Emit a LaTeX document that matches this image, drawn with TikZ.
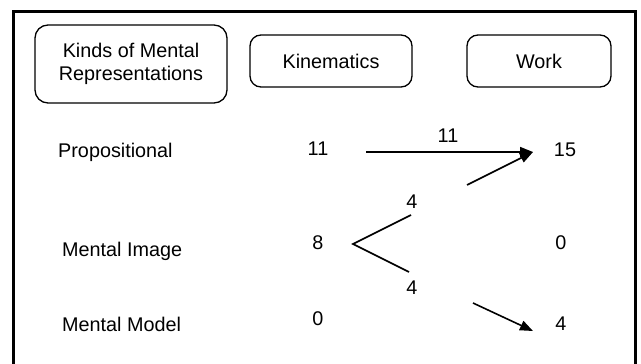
\documentclass[tikz,border=0pt]{standalone}
\usepackage{fontspec}
\setmainfont{Liberation Sans}
\usetikzlibrary{arrows.meta}
\begin{document}
\begin{tikzpicture}[x=1pt,y=-1pt,
  txt/.style={inner sep=0pt,font=\fontsize{19.8}{23}\selectfont},
  hbox/.style={draw,line width=1.3pt,rounded corners=11pt,inner sep=0pt,minimum height=52pt},
  conn/.style={line width=1.6pt},
  arr/.style={conn,-{Triangle[length=13pt,width=10pt]}}]
\useasboundingbox (0,0) rectangle (641,364);
\fill[white] (0,0) rectangle (641,364);
% outer frame (open below the page edge)
\draw[line width=3pt] (13,372) -- (13,11) -- (635,11) -- (635,372);
% header boxes
\node[hbox,minimum width=192pt,minimum height=78pt,rounded corners=13pt,align=center,txt] (hkinds) at (131,64)
  {Kinds of Mental\\Representations};
\node[hbox,minimum width=162pt,txt] (hkin) at (331,61) {Kinematics};
\node[hbox,minimum width=144pt,txt] (hwork) at (539,61) {Work};
% row labels
\node[txt,anchor=base west] (rprop) at (58,157) {Propositional};
\node[txt,anchor=base west] (rimg) at (62,256) {Mental Image};
\node[txt,anchor=base west] (rmod) at (62,331) {Mental Model};
% kinematics column
\node[txt,anchor=base] (k11) at (318,155) {11};
\node[txt,anchor=base] (k8) at (318,249) {8};
\node[txt,anchor=base] (k0) at (318,325) {0};
% work column
\node[txt,anchor=base] (w15) at (565,156) {15};
\node[txt,anchor=base] (w0) at (561,249) {0};
\node[txt,anchor=base] (w4) at (561,330) {4};
% flow labels
\node[txt,anchor=base] (l11) at (448,142) {11};
\node[txt,anchor=base] (l4a) at (412,208) {4};
\node[txt,anchor=base] (l4b) at (412,294) {4};
% connector end points
\coordinate (a1s) at (366,152);
\coordinate (tip) at (533,152);
\coordinate (a2s) at (467,185);
\coordinate (vup) at (411,215);
\coordinate (vtx) at (353,244);
\coordinate (vlo) at (409,272);
\coordinate (a3s) at (473,303);
\coordinate (a3e) at (533,331);
% connectors
\draw[arr] (a1s) -- (tip);
\draw[arr] (a2s) -- (tip);
\draw[conn] (vup) -- (vtx) -- (vlo);
\draw[arr] (a3s) -- (a3e);
\end{tikzpicture}
\end{document}
